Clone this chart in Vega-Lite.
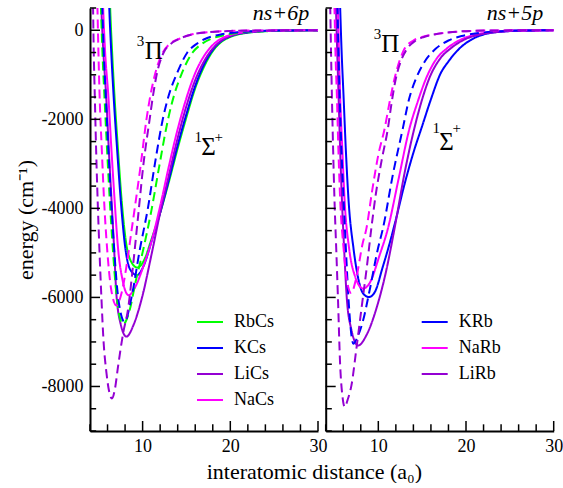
{
"$schema": "https://vega.github.io/schema/vega-lite/v6.json",
"padding": {"left": 14, "top": 2, "right": 0, "bottom": 0},
"background": "white",
"bounds": "flush",
"config": {
  "view": {"stroke": null},
  "axis": {"labelFont": "Liberation Serif", "labelFontSize": 18, "labelColor": "black", "labelFlush": false, "titleFont": "Liberation Serif", "titleFontSize": 22, "titleFontWeight": "normal", "titleColor": "black", "domainColor": "black", "domainWidth": 2, "ticks": false, "grid": false},
  "legend": {"labelFont": "Liberation Serif", "labelFontSize": 18, "labelColor": "black"}
},
"datasets": {
"curves": [
{"p":"6p","m":"RbCs","s":"S","x":6.15,"y":1500},{"p":"6p","m":"RbCs","s":"S","x":6.3,"y":500},{"p":"6p","m":"RbCs","s":"S","x":6.5,"y":-400},{"p":"6p","m":"RbCs","s":"S","x":6.8,"y":-1500},{"p":"6p","m":"RbCs","s":"S","x":7.2,"y":-2700},{"p":"6p","m":"RbCs","s":"S","x":7.6,"y":-3800},{"p":"6p","m":"RbCs","s":"S","x":8.1,"y":-4750},{"p":"6p","m":"RbCs","s":"S","x":8.7,"y":-5200},{"p":"6p","m":"RbCs","s":"S","x":9.4,"y":-5330},{"p":"6p","m":"RbCs","s":"S","x":10.2,"y":-5150},{"p":"6p","m":"RbCs","s":"S","x":11.0,"y":-4700},{"p":"6p","m":"RbCs","s":"S","x":12.0,"y":-4100},{"p":"6p","m":"RbCs","s":"S","x":13.0,"y":-3400},{"p":"6p","m":"RbCs","s":"S","x":14.0,"y":-2650},{"p":"6p","m":"RbCs","s":"S","x":15.0,"y":-1950},{"p":"6p","m":"RbCs","s":"S","x":16.0,"y":-1300},{"p":"6p","m":"RbCs","s":"S","x":17.0,"y":-820},{"p":"6p","m":"RbCs","s":"S","x":18.0,"y":-470},{"p":"6p","m":"RbCs","s":"S","x":19.0,"y":-260},{"p":"6p","m":"RbCs","s":"S","x":20.0,"y":-150},{"p":"6p","m":"RbCs","s":"S","x":22.0,"y":-55},{"p":"6p","m":"RbCs","s":"S","x":25.0,"y":-15},{"p":"6p","m":"RbCs","s":"S","x":30.0,"y":0},
{"p":"6p","m":"KCs","s":"S","x":6.05,"y":1500},{"p":"6p","m":"KCs","s":"S","x":6.2,"y":500},{"p":"6p","m":"KCs","s":"S","x":6.4,"y":-400},{"p":"6p","m":"KCs","s":"S","x":6.7,"y":-1500},{"p":"6p","m":"KCs","s":"S","x":7.1,"y":-2700},{"p":"6p","m":"KCs","s":"S","x":7.5,"y":-3800},{"p":"6p","m":"KCs","s":"S","x":8.0,"y":-4850},{"p":"6p","m":"KCs","s":"S","x":8.6,"y":-5380},{"p":"6p","m":"KCs","s":"S","x":9.35,"y":-5500},{"p":"6p","m":"KCs","s":"S","x":10.2,"y":-5250},{"p":"6p","m":"KCs","s":"S","x":11.0,"y":-4750},{"p":"6p","m":"KCs","s":"S","x":12.0,"y":-4100},{"p":"6p","m":"KCs","s":"S","x":13.0,"y":-3350},{"p":"6p","m":"KCs","s":"S","x":14.0,"y":-2580},{"p":"6p","m":"KCs","s":"S","x":15.0,"y":-1880},{"p":"6p","m":"KCs","s":"S","x":16.0,"y":-1250},{"p":"6p","m":"KCs","s":"S","x":17.0,"y":-770},{"p":"6p","m":"KCs","s":"S","x":18.0,"y":-440},{"p":"6p","m":"KCs","s":"S","x":19.0,"y":-240},{"p":"6p","m":"KCs","s":"S","x":20.0,"y":-135},{"p":"6p","m":"KCs","s":"S","x":22.0,"y":-50},{"p":"6p","m":"KCs","s":"S","x":25.0,"y":-12},{"p":"6p","m":"KCs","s":"S","x":30.0,"y":0},
{"p":"6p","m":"LiCs","s":"S","x":5.15,"y":1500},{"p":"6p","m":"LiCs","s":"S","x":5.3,"y":500},{"p":"6p","m":"LiCs","s":"S","x":5.5,"y":-400},{"p":"6p","m":"LiCs","s":"S","x":5.85,"y":-1500},{"p":"6p","m":"LiCs","s":"S","x":6.15,"y":-2700},{"p":"6p","m":"LiCs","s":"S","x":6.45,"y":-3800},{"p":"6p","m":"LiCs","s":"S","x":6.75,"y":-4900},{"p":"6p","m":"LiCs","s":"S","x":7.0,"y":-5900},{"p":"6p","m":"LiCs","s":"S","x":7.5,"y":-6600},{"p":"6p","m":"LiCs","s":"S","x":8.15,"y":-6880},{"p":"6p","m":"LiCs","s":"S","x":9.0,"y":-6600},{"p":"6p","m":"LiCs","s":"S","x":10.0,"y":-5950},{"p":"6p","m":"LiCs","s":"S","x":11.0,"y":-5050},{"p":"6p","m":"LiCs","s":"S","x":12.0,"y":-4100},{"p":"6p","m":"LiCs","s":"S","x":13.0,"y":-3250},{"p":"6p","m":"LiCs","s":"S","x":14.0,"y":-2420},{"p":"6p","m":"LiCs","s":"S","x":15.0,"y":-1700},{"p":"6p","m":"LiCs","s":"S","x":16.0,"y":-1120},{"p":"6p","m":"LiCs","s":"S","x":17.0,"y":-700},{"p":"6p","m":"LiCs","s":"S","x":18.0,"y":-410},{"p":"6p","m":"LiCs","s":"S","x":19.0,"y":-230},{"p":"6p","m":"LiCs","s":"S","x":20.0,"y":-130},{"p":"6p","m":"LiCs","s":"S","x":22.0,"y":-42},{"p":"6p","m":"LiCs","s":"S","x":25.0,"y":-10},{"p":"6p","m":"LiCs","s":"S","x":30.0,"y":0},
{"p":"6p","m":"NaCs","s":"S","x":5.35,"y":1500},{"p":"6p","m":"NaCs","s":"S","x":5.5,"y":500},{"p":"6p","m":"NaCs","s":"S","x":5.7,"y":-400},{"p":"6p","m":"NaCs","s":"S","x":6.1,"y":-1500},{"p":"6p","m":"NaCs","s":"S","x":6.45,"y":-2700},{"p":"6p","m":"NaCs","s":"S","x":6.8,"y":-3800},{"p":"6p","m":"NaCs","s":"S","x":7.2,"y":-4900},{"p":"6p","m":"NaCs","s":"S","x":7.7,"y":-5600},{"p":"6p","m":"NaCs","s":"S","x":8.4,"y":-5950},{"p":"6p","m":"NaCs","s":"S","x":9.2,"y":-5750},{"p":"6p","m":"NaCs","s":"S","x":10.0,"y":-5350},{"p":"6p","m":"NaCs","s":"S","x":11.0,"y":-4750},{"p":"6p","m":"NaCs","s":"S","x":12.0,"y":-3950},{"p":"6p","m":"NaCs","s":"S","x":13.0,"y":-3050},{"p":"6p","m":"NaCs","s":"S","x":14.0,"y":-2220},{"p":"6p","m":"NaCs","s":"S","x":15.0,"y":-1520},{"p":"6p","m":"NaCs","s":"S","x":16.0,"y":-960},{"p":"6p","m":"NaCs","s":"S","x":17.0,"y":-580},{"p":"6p","m":"NaCs","s":"S","x":18.0,"y":-330},{"p":"6p","m":"NaCs","s":"S","x":19.0,"y":-185},{"p":"6p","m":"NaCs","s":"S","x":20.0,"y":-105},{"p":"6p","m":"NaCs","s":"S","x":22.0,"y":-35},{"p":"6p","m":"NaCs","s":"S","x":25.0,"y":-9},{"p":"6p","m":"NaCs","s":"S","x":30.0,"y":0},
{"p":"6p","m":"RbCs","s":"P","x":5.1,"y":1500},{"p":"6p","m":"RbCs","s":"P","x":5.25,"y":500},{"p":"6p","m":"RbCs","s":"P","x":5.4,"y":-400},{"p":"6p","m":"RbCs","s":"P","x":5.65,"y":-1500},{"p":"6p","m":"RbCs","s":"P","x":5.95,"y":-2700},{"p":"6p","m":"RbCs","s":"P","x":6.25,"y":-3800},{"p":"6p","m":"RbCs","s":"P","x":6.6,"y":-4900},{"p":"6p","m":"RbCs","s":"P","x":7.0,"y":-5900},{"p":"6p","m":"RbCs","s":"P","x":7.4,"y":-6450},{"p":"6p","m":"RbCs","s":"P","x":7.8,"y":-6600},{"p":"6p","m":"RbCs","s":"P","x":8.5,"y":-6300},{"p":"6p","m":"RbCs","s":"P","x":9.2,"y":-5650},{"p":"6p","m":"RbCs","s":"P","x":10.1,"y":-4900},{"p":"6p","m":"RbCs","s":"P","x":11.0,"y":-4050},{"p":"6p","m":"RbCs","s":"P","x":11.9,"y":-3050},{"p":"6p","m":"RbCs","s":"P","x":12.9,"y":-2000},{"p":"6p","m":"RbCs","s":"P","x":13.6,"y":-1450},{"p":"6p","m":"RbCs","s":"P","x":14.4,"y":-1000},{"p":"6p","m":"RbCs","s":"P","x":15.7,"y":-500},{"p":"6p","m":"RbCs","s":"P","x":16.8,"y":-300},{"p":"6p","m":"RbCs","s":"P","x":18.0,"y":-180},{"p":"6p","m":"RbCs","s":"P","x":19.5,"y":-100},{"p":"6p","m":"RbCs","s":"P","x":21.5,"y":-45},{"p":"6p","m":"RbCs","s":"P","x":24.0,"y":-15},{"p":"6p","m":"RbCs","s":"P","x":30.0,"y":0},
{"p":"6p","m":"KCs","s":"P","x":5.25,"y":1500},{"p":"6p","m":"KCs","s":"P","x":5.4,"y":500},{"p":"6p","m":"KCs","s":"P","x":5.55,"y":-400},{"p":"6p","m":"KCs","s":"P","x":5.8,"y":-1500},{"p":"6p","m":"KCs","s":"P","x":6.1,"y":-2700},{"p":"6p","m":"KCs","s":"P","x":6.4,"y":-3800},{"p":"6p","m":"KCs","s":"P","x":6.75,"y":-4900},{"p":"6p","m":"KCs","s":"P","x":7.1,"y":-5800},{"p":"6p","m":"KCs","s":"P","x":7.5,"y":-6350},{"p":"6p","m":"KCs","s":"P","x":7.95,"y":-6550},{"p":"6p","m":"KCs","s":"P","x":8.7,"y":-6030},{"p":"6p","m":"KCs","s":"P","x":9.7,"y":-4905},{"p":"6p","m":"KCs","s":"P","x":10.6,"y":-4000},{"p":"6p","m":"KCs","s":"P","x":11.4,"y":-3000},{"p":"6p","m":"KCs","s":"P","x":12.3,"y":-2000},{"p":"6p","m":"KCs","s":"P","x":13.0,"y":-1450},{"p":"6p","m":"KCs","s":"P","x":13.85,"y":-1000},{"p":"6p","m":"KCs","s":"P","x":15.1,"y":-500},{"p":"6p","m":"KCs","s":"P","x":16.2,"y":-300},{"p":"6p","m":"KCs","s":"P","x":17.3,"y":-180},{"p":"6p","m":"KCs","s":"P","x":19.0,"y":-90},{"p":"6p","m":"KCs","s":"P","x":21.0,"y":-40},{"p":"6p","m":"KCs","s":"P","x":24.0,"y":-12},{"p":"6p","m":"KCs","s":"P","x":30.0,"y":0},
{"p":"6p","m":"NaCs","s":"P","x":4.75,"y":1500},{"p":"6p","m":"NaCs","s":"P","x":4.85,"y":500},{"p":"6p","m":"NaCs","s":"P","x":4.95,"y":-400},{"p":"6p","m":"NaCs","s":"P","x":5.1,"y":-1500},{"p":"6p","m":"NaCs","s":"P","x":5.35,"y":-2700},{"p":"6p","m":"NaCs","s":"P","x":5.6,"y":-3800},{"p":"6p","m":"NaCs","s":"P","x":5.95,"y":-4900},{"p":"6p","m":"NaCs","s":"P","x":6.4,"y":-5800},{"p":"6p","m":"NaCs","s":"P","x":7.0,"y":-6180},{"p":"6p","m":"NaCs","s":"P","x":7.6,"y":-5900},{"p":"6p","m":"NaCs","s":"P","x":8.2,"y":-5250},{"p":"6p","m":"NaCs","s":"P","x":8.7,"y":-4550},{"p":"6p","m":"NaCs","s":"P","x":9.1,"y":-4000},{"p":"6p","m":"NaCs","s":"P","x":9.8,"y":-3000},{"p":"6p","m":"NaCs","s":"P","x":10.44,"y":-2000},{"p":"6p","m":"NaCs","s":"P","x":10.9,"y":-1450},{"p":"6p","m":"NaCs","s":"P","x":11.4,"y":-1000},{"p":"6p","m":"NaCs","s":"P","x":12.3,"y":-500},{"p":"6p","m":"NaCs","s":"P","x":13.0,"y":-320},{"p":"6p","m":"NaCs","s":"P","x":14.2,"y":-190},{"p":"6p","m":"NaCs","s":"P","x":15.5,"y":-100},{"p":"6p","m":"NaCs","s":"P","x":17.5,"y":-45},{"p":"6p","m":"NaCs","s":"P","x":20.0,"y":-15},{"p":"6p","m":"NaCs","s":"P","x":24.0,"y":-4},{"p":"6p","m":"NaCs","s":"P","x":30.0,"y":0},
{"p":"6p","m":"LiCs","s":"P","x":4.28,"y":1500},{"p":"6p","m":"LiCs","s":"P","x":4.35,"y":500},{"p":"6p","m":"LiCs","s":"P","x":4.42,"y":-400},{"p":"6p","m":"LiCs","s":"P","x":4.55,"y":-1500},{"p":"6p","m":"LiCs","s":"P","x":4.7,"y":-2700},{"p":"6p","m":"LiCs","s":"P","x":4.87,"y":-3800},{"p":"6p","m":"LiCs","s":"P","x":5.07,"y":-4900},{"p":"6p","m":"LiCs","s":"P","x":5.3,"y":-6000},{"p":"6p","m":"LiCs","s":"P","x":5.55,"y":-7000},{"p":"6p","m":"LiCs","s":"P","x":5.85,"y":-7650},{"p":"6p","m":"LiCs","s":"P","x":6.15,"y":-8080},{"p":"6p","m":"LiCs","s":"P","x":6.5,"y":-8270},{"p":"6p","m":"LiCs","s":"P","x":6.85,"y":-8050},{"p":"6p","m":"LiCs","s":"P","x":7.2,"y":-7550},{"p":"6p","m":"LiCs","s":"P","x":7.8,"y":-6780},{"p":"6p","m":"LiCs","s":"P","x":8.35,"y":-6250},{"p":"6p","m":"LiCs","s":"P","x":8.9,"y":-5300},{"p":"6p","m":"LiCs","s":"P","x":9.5,"y":-4150},{"p":"6p","m":"LiCs","s":"P","x":10.1,"y":-3000},{"p":"6p","m":"LiCs","s":"P","x":10.8,"y":-2000},{"p":"6p","m":"LiCs","s":"P","x":11.2,"y":-1450},{"p":"6p","m":"LiCs","s":"P","x":11.6,"y":-1000},{"p":"6p","m":"LiCs","s":"P","x":12.4,"y":-500},{"p":"6p","m":"LiCs","s":"P","x":13.2,"y":-310},{"p":"6p","m":"LiCs","s":"P","x":14.2,"y":-190},{"p":"6p","m":"LiCs","s":"P","x":15.5,"y":-100},{"p":"6p","m":"LiCs","s":"P","x":17.5,"y":-45},{"p":"6p","m":"LiCs","s":"P","x":20.0,"y":-15},{"p":"6p","m":"LiCs","s":"P","x":24.0,"y":-4},{"p":"6p","m":"LiCs","s":"P","x":30.0,"y":0},
{"p":"5p","m":"KRb","s":"S","x":5.5,"y":1500},{"p":"5p","m":"KRb","s":"S","x":5.65,"y":500},{"p":"5p","m":"KRb","s":"S","x":5.8,"y":-400},{"p":"5p","m":"KRb","s":"S","x":6.04,"y":-1500},{"p":"5p","m":"KRb","s":"S","x":6.3,"y":-2700},{"p":"5p","m":"KRb","s":"S","x":6.6,"y":-3800},{"p":"5p","m":"KRb","s":"S","x":7.17,"y":-4900},{"p":"5p","m":"KRb","s":"S","x":7.74,"y":-5600},{"p":"5p","m":"KRb","s":"S","x":8.3,"y":-5920},{"p":"5p","m":"KRb","s":"S","x":8.94,"y":-5990},{"p":"5p","m":"KRb","s":"S","x":9.6,"y":-5880},{"p":"5p","m":"KRb","s":"S","x":10.5,"y":-5320},{"p":"5p","m":"KRb","s":"S","x":11.3,"y":-4780},{"p":"5p","m":"KRb","s":"S","x":12.0,"y":-4250},{"p":"5p","m":"KRb","s":"S","x":13.0,"y":-3450},{"p":"5p","m":"KRb","s":"S","x":14.0,"y":-2750},{"p":"5p","m":"KRb","s":"S","x":15.0,"y":-2150},{"p":"5p","m":"KRb","s":"S","x":16.0,"y":-1550},{"p":"5p","m":"KRb","s":"S","x":17.1,"y":-970},{"p":"5p","m":"KRb","s":"S","x":18.0,"y":-700},{"p":"5p","m":"KRb","s":"S","x":19.2,"y":-420},{"p":"5p","m":"KRb","s":"S","x":20.7,"y":-200},{"p":"5p","m":"KRb","s":"S","x":22.3,"y":-80},{"p":"5p","m":"KRb","s":"S","x":24.5,"y":-25},{"p":"5p","m":"KRb","s":"S","x":27.0,"y":-5},{"p":"5p","m":"KRb","s":"S","x":30.0,"y":0},
{"p":"5p","m":"NaRb","s":"S","x":5.25,"y":1500},{"p":"5p","m":"NaRb","s":"S","x":5.4,"y":500},{"p":"5p","m":"NaRb","s":"S","x":5.5,"y":-400},{"p":"5p","m":"NaRb","s":"S","x":5.65,"y":-1500},{"p":"5p","m":"NaRb","s":"S","x":5.9,"y":-2700},{"p":"5p","m":"NaRb","s":"S","x":6.15,"y":-3800},{"p":"5p","m":"NaRb","s":"S","x":6.67,"y":-4900},{"p":"5p","m":"NaRb","s":"S","x":7.3,"y":-5500},{"p":"5p","m":"NaRb","s":"S","x":8.26,"y":-5800},{"p":"5p","m":"NaRb","s":"S","x":9.0,"y":-5680},{"p":"5p","m":"NaRb","s":"S","x":10.15,"y":-5050},{"p":"5p","m":"NaRb","s":"S","x":11.09,"y":-4456},{"p":"5p","m":"NaRb","s":"S","x":12.3,"y":-3350},{"p":"5p","m":"NaRb","s":"S","x":13.55,"y":-2209},{"p":"5p","m":"NaRb","s":"S","x":14.5,"y":-1600},{"p":"5p","m":"NaRb","s":"S","x":15.44,"y":-1085},{"p":"5p","m":"NaRb","s":"S","x":16.6,"y":-650},{"p":"5p","m":"NaRb","s":"S","x":17.8,"y":-411},{"p":"5p","m":"NaRb","s":"S","x":19.2,"y":-230},{"p":"5p","m":"NaRb","s":"S","x":21.0,"y":-100},{"p":"5p","m":"NaRb","s":"S","x":23.0,"y":-40},{"p":"5p","m":"NaRb","s":"S","x":26.0,"y":-10},{"p":"5p","m":"NaRb","s":"S","x":30.0,"y":0},
{"p":"5p","m":"LiRb","s":"S","x":5.02,"y":1500},{"p":"5p","m":"LiRb","s":"S","x":5.17,"y":500},{"p":"5p","m":"LiRb","s":"S","x":5.3,"y":-400},{"p":"5p","m":"LiRb","s":"S","x":5.47,"y":-1500},{"p":"5p","m":"LiRb","s":"S","x":5.65,"y":-2700},{"p":"5p","m":"LiRb","s":"S","x":5.85,"y":-3800},{"p":"5p","m":"LiRb","s":"S","x":6.1,"y":-4900},{"p":"5p","m":"LiRb","s":"S","x":6.4,"y":-6000},{"p":"5p","m":"LiRb","s":"S","x":6.9,"y":-6700},{"p":"5p","m":"LiRb","s":"S","x":7.7,"y":-7080},{"p":"5p","m":"LiRb","s":"S","x":8.64,"y":-6850},{"p":"5p","m":"LiRb","s":"S","x":9.78,"y":-6250},{"p":"5p","m":"LiRb","s":"S","x":10.9,"y":-5400},{"p":"5p","m":"LiRb","s":"S","x":11.9,"y":-4400},{"p":"5p","m":"LiRb","s":"S","x":13.0,"y":-3200},{"p":"5p","m":"LiRb","s":"S","x":14.1,"y":-2209},{"p":"5p","m":"LiRb","s":"S","x":15.0,"y":-1550},{"p":"5p","m":"LiRb","s":"S","x":15.8,"y":-1085},{"p":"5p","m":"LiRb","s":"S","x":17.0,"y":-650},{"p":"5p","m":"LiRb","s":"S","x":18.3,"y":-400},{"p":"5p","m":"LiRb","s":"S","x":19.8,"y":-210},{"p":"5p","m":"LiRb","s":"S","x":21.5,"y":-100},{"p":"5p","m":"LiRb","s":"S","x":23.5,"y":-40},{"p":"5p","m":"LiRb","s":"S","x":26.0,"y":-10},{"p":"5p","m":"LiRb","s":"S","x":30.0,"y":0},
{"p":"5p","m":"KRb","s":"P","x":5.2,"y":1500},{"p":"5p","m":"KRb","s":"P","x":5.35,"y":500},{"p":"5p","m":"KRb","s":"P","x":5.45,"y":-400},{"p":"5p","m":"KRb","s":"P","x":5.6,"y":-1500},{"p":"5p","m":"KRb","s":"P","x":5.8,"y":-2700},{"p":"5p","m":"KRb","s":"P","x":6.04,"y":-3800},{"p":"5p","m":"KRb","s":"P","x":6.3,"y":-4900},{"p":"5p","m":"KRb","s":"P","x":6.6,"y":-6030},{"p":"5p","m":"KRb","s":"P","x":6.85,"y":-6700},{"p":"5p","m":"KRb","s":"P","x":7.15,"y":-7040},{"p":"5p","m":"KRb","s":"P","x":7.6,"y":-6900},{"p":"5p","m":"KRb","s":"P","x":8.26,"y":-6520},{"p":"5p","m":"KRb","s":"P","x":9.0,"y":-5850},{"p":"5p","m":"KRb","s":"P","x":9.96,"y":-4900},{"p":"5p","m":"KRb","s":"P","x":10.52,"y":-4456},{"p":"5p","m":"KRb","s":"P","x":11.7,"y":-3200},{"p":"5p","m":"KRb","s":"P","x":12.79,"y":-2209},{"p":"5p","m":"KRb","s":"P","x":13.5,"y":-1550},{"p":"5p","m":"KRb","s":"P","x":14.3,"y":-1085},{"p":"5p","m":"KRb","s":"P","x":15.3,"y":-700},{"p":"5p","m":"KRb","s":"P","x":16.57,"y":-411},{"p":"5p","m":"KRb","s":"P","x":18.0,"y":-230},{"p":"5p","m":"KRb","s":"P","x":19.5,"y":-130},{"p":"5p","m":"KRb","s":"P","x":21.5,"y":-60},{"p":"5p","m":"KRb","s":"P","x":24.0,"y":-20},{"p":"5p","m":"KRb","s":"P","x":27.0,"y":-5},{"p":"5p","m":"KRb","s":"P","x":30.0,"y":0},
{"p":"5p","m":"NaRb","s":"P","x":4.85,"y":1500},{"p":"5p","m":"NaRb","s":"P","x":5.0,"y":500},{"p":"5p","m":"NaRb","s":"P","x":5.1,"y":-400},{"p":"5p","m":"NaRb","s":"P","x":5.28,"y":-1500},{"p":"5p","m":"NaRb","s":"P","x":5.45,"y":-2700},{"p":"5p","m":"NaRb","s":"P","x":5.65,"y":-3800},{"p":"5p","m":"NaRb","s":"P","x":6.04,"y":-4900},{"p":"5p","m":"NaRb","s":"P","x":6.4,"y":-5600},{"p":"5p","m":"NaRb","s":"P","x":6.9,"y":-5900},{"p":"5p","m":"NaRb","s":"P","x":7.5,"y":-5550},{"p":"5p","m":"NaRb","s":"P","x":8.2,"y":-4800},{"p":"5p","m":"NaRb","s":"P","x":8.64,"y":-4456},{"p":"5p","m":"NaRb","s":"P","x":9.3,"y":-3600},{"p":"5p","m":"NaRb","s":"P","x":10.0,"y":-2800},{"p":"5p","m":"NaRb","s":"P","x":10.72,"y":-2209},{"p":"5p","m":"NaRb","s":"P","x":11.3,"y":-1600},{"p":"5p","m":"NaRb","s":"P","x":11.85,"y":-1085},{"p":"5p","m":"NaRb","s":"P","x":12.4,"y":-700},{"p":"5p","m":"NaRb","s":"P","x":13.0,"y":-411},{"p":"5p","m":"NaRb","s":"P","x":14.0,"y":-230},{"p":"5p","m":"NaRb","s":"P","x":15.0,"y":-150},{"p":"5p","m":"NaRb","s":"P","x":16.5,"y":-90},{"p":"5p","m":"NaRb","s":"P","x":18.5,"y":-40},{"p":"5p","m":"NaRb","s":"P","x":21.0,"y":-12},{"p":"5p","m":"NaRb","s":"P","x":25.0,"y":-2},{"p":"5p","m":"NaRb","s":"P","x":30.0,"y":0},
{"p":"5p","m":"LiRb","s":"P","x":4.42,"y":1500},{"p":"5p","m":"LiRb","s":"P","x":4.52,"y":500},{"p":"5p","m":"LiRb","s":"P","x":4.6,"y":-400},{"p":"5p","m":"LiRb","s":"P","x":4.71,"y":-1500},{"p":"5p","m":"LiRb","s":"P","x":4.85,"y":-2700},{"p":"5p","m":"LiRb","s":"P","x":5.0,"y":-3800},{"p":"5p","m":"LiRb","s":"P","x":5.2,"y":-4900},{"p":"5p","m":"LiRb","s":"P","x":5.4,"y":-6030},{"p":"5p","m":"LiRb","s":"P","x":5.65,"y":-7527},{"p":"5p","m":"LiRb","s":"P","x":5.9,"y":-8200},{"p":"5p","m":"LiRb","s":"P","x":6.17,"y":-8460},{"p":"5p","m":"LiRb","s":"P","x":6.5,"y":-8300},{"p":"5p","m":"LiRb","s":"P","x":6.94,"y":-7970},{"p":"5p","m":"LiRb","s":"P","x":7.5,"y":-7150},{"p":"5p","m":"LiRb","s":"P","x":8.08,"y":-6250},{"p":"5p","m":"LiRb","s":"P","x":8.7,"y":-5300},{"p":"5p","m":"LiRb","s":"P","x":9.2,"y":-4456},{"p":"5p","m":"LiRb","s":"P","x":9.7,"y":-3700},{"p":"5p","m":"LiRb","s":"P","x":10.4,"y":-2900},{"p":"5p","m":"LiRb","s":"P","x":11.09,"y":-2209},{"p":"5p","m":"LiRb","s":"P","x":11.5,"y":-1650},{"p":"5p","m":"LiRb","s":"P","x":12.0,"y":-1085},{"p":"5p","m":"LiRb","s":"P","x":12.6,"y":-680},{"p":"5p","m":"LiRb","s":"P","x":13.3,"y":-411},{"p":"5p","m":"LiRb","s":"P","x":14.2,"y":-240},{"p":"5p","m":"LiRb","s":"P","x":15.2,"y":-150},{"p":"5p","m":"LiRb","s":"P","x":16.5,"y":-90},{"p":"5p","m":"LiRb","s":"P","x":18.5,"y":-40},{"p":"5p","m":"LiRb","s":"P","x":21.0,"y":-12},{"p":"5p","m":"LiRb","s":"P","x":25.0,"y":-2},{"p":"5p","m":"LiRb","s":"P","x":30.0,"y":0}
],
"notes": [
{"p":"6p","k":"main","t":"Π","x":10.25,"y":-636},
{"p":"6p","k":"sup","t":"3","x":9.34,"y":-344},
{"p":"6p","k":"main","t":"Σ","x":16.69,"y":-2800},
{"p":"6p","k":"sup","t":"1","x":15.93,"y":-2520},
{"p":"6p","k":"sup","t":"+","x":18.2,"y":-2520},
{"p":"6p","k":"head","t":"ns+6p","x":29.0,"y":220},
{"p":"5p","k":"main","t":"Π","x":10.34,"y":-485},
{"p":"5p","k":"sup","t":"3","x":9.47,"y":-190},
{"p":"5p","k":"main","t":"Σ","x":16.94,"y":-2680},
{"p":"5p","k":"sup","t":"1","x":16.19,"y":-2300},
{"p":"5p","k":"sup","t":"+","x":18.45,"y":-2300},
{"p":"5p","k":"head","t":"ns+5p","x":28.8,"y":220}
],
"yticks": [
{"kind":"major","v":-8000,"a":4,"b":5.14},{"kind":"major","v":-6000,"a":4,"b":5.14},{"kind":"major","v":-4000,"a":4,"b":5.14},{"kind":"major","v":-2000,"a":4,"b":5.14},{"kind":"major","v":0,"a":4,"b":5.14},
{"kind":"minor","v":-9000,"a":4,"b":4.7},{"kind":"minor","v":-8500,"a":4,"b":4.7},{"kind":"minor","v":-7500,"a":4,"b":4.7},{"kind":"minor","v":-7000,"a":4,"b":4.7},{"kind":"minor","v":-6500,"a":4,"b":4.7},{"kind":"minor","v":-5500,"a":4,"b":4.7},{"kind":"minor","v":-5000,"a":4,"b":4.7},{"kind":"minor","v":-4500,"a":4,"b":4.7},{"kind":"minor","v":-3500,"a":4,"b":4.7},{"kind":"minor","v":-3000,"a":4,"b":4.7},{"kind":"minor","v":-2500,"a":4,"b":4.7},{"kind":"minor","v":-1500,"a":4,"b":4.7},{"kind":"minor","v":-1000,"a":4,"b":4.7},{"kind":"minor","v":-500,"a":4,"b":4.7},{"kind":"minor","v":500,"a":4,"b":4.7}
],
"xticks": [
{"kind":"major","v":10,"a":-9000,"b":-8775},{"kind":"major","v":20,"a":-9000,"b":-8775},{"kind":"major","v":30,"a":-9000,"b":-8775},
{"kind":"minor","v":4,"a":-9000,"b":-8850},{"kind":"minor","v":6,"a":-9000,"b":-8850},{"kind":"minor","v":8,"a":-9000,"b":-8850},{"kind":"minor","v":12,"a":-9000,"b":-8850},{"kind":"minor","v":14,"a":-9000,"b":-8850},{"kind":"minor","v":16,"a":-9000,"b":-8850},{"kind":"minor","v":18,"a":-9000,"b":-8850},{"kind":"minor","v":22,"a":-9000,"b":-8850},{"kind":"minor","v":24,"a":-9000,"b":-8850},{"kind":"minor","v":26,"a":-9000,"b":-8850},{"kind":"minor","v":28,"a":-9000,"b":-8850}
]
},
"title": {"text": "interatomic distance (a₀)", "orient": "bottom", "anchor": "middle", "font": "Liberation Serif", "fontSize": 22, "fontWeight": "normal", "color": "black", "offset": 7, "dx": 26},
"spacing": 7.7,
"resolve": {"scale": {"color": "independent"}},
"hconcat": [
{
 "width": 228, "height": 423,
 "layer": [
  {"data": {"name": "curves"}, "transform": [{"filter": "datum.p == '6p'"}],
   "mark": {"type": "line", "clip": true, "interpolate": "monotone", "strokeWidth": 2},
   "encoding": {
    "x": {"field": "x", "type": "quantitative", "scale": {"domain": [4, 30], "nice": false, "zero": false},
          "axis": {"orient": "bottom", "values": [10, 20, 30], "labelPadding": 6, "title": null}},
    "y": {"field": "y", "type": "quantitative", "scale": {"domain": [-9000, 500], "nice": false, "zero": false},
          "axis": {"orient": "left", "values": [-8000, -6000, -4000, -2000, 0], "labelPadding": 7, "labelExpr": "datum.value + ''", "title": "energy (cm⁻¹)", "titlePadding": 4}},
    "color": {"field": "m", "type": "nominal", "scale": {"domain": ["RbCs", "KCs", "LiCs", "NaCs"], "range": ["#00ff00", "#0000ff", "#9400d3", "#ff00ff"]},
              "legend": {"orient": "none", "legendX": 106, "legendY": 300, "title": null, "symbolType": "stroke", "symbolSize": 676, "symbolStrokeWidth": 2, "labelOffset": 10, "rowPadding": 3, "padding": 0}},
    "strokeDash": {"field": "s", "type": "nominal", "scale": {"domain": ["S", "P"], "range": [[1, 0], [9, 5]]}, "legend": null}
   }},
  {"data": {"name": "yticks"},
   "mark": {"type": "rule", "strokeWidth": 1.5, "color": "black"},
   "encoding": {
    "x": {"field": "a", "type": "quantitative", "scale": {"domain": [4, 30], "nice": false, "zero": false}, "axis": null},
    "x2": {"field": "b"},
    "y": {"field": "v", "type": "quantitative", "scale": {"domain": [-9000, 500], "nice": false, "zero": false}, "axis": null}
   }},
  {"data": {"name": "xticks"},
   "mark": {"type": "rule", "strokeWidth": 1.5, "color": "black"},
   "encoding": {
    "x": {"field": "v", "type": "quantitative", "scale": {"domain": [4, 30], "nice": false, "zero": false}, "axis": null},
    "y": {"field": "a", "type": "quantitative", "scale": {"domain": [-9000, 500], "nice": false, "zero": false}, "axis": null},
    "y2": {"field": "b"}
   }},
  {"data": {"name": "notes"}, "transform": [{"filter": "datum.p == '6p' && datum.k == 'main'"}],
   "mark": {"type": "text", "font": "Liberation Serif", "fontSize": 25, "align": "left", "baseline": "alphabetic", "color": "black"},
   "encoding": {
    "x": {"field": "x", "type": "quantitative", "scale": {"domain": [4, 30], "nice": false, "zero": false}, "axis": null},
    "y": {"field": "y", "type": "quantitative", "scale": {"domain": [-9000, 500], "nice": false, "zero": false}, "axis": null},
    "text": {"field": "t"}
   }},
  {"data": {"name": "notes"}, "transform": [{"filter": "datum.p == '6p' && datum.k == 'sup'"}],
   "mark": {"type": "text", "font": "Liberation Serif", "fontSize": 15, "align": "left", "baseline": "alphabetic", "color": "black"},
   "encoding": {
    "x": {"field": "x", "type": "quantitative", "scale": {"domain": [4, 30], "nice": false, "zero": false}, "axis": null},
    "y": {"field": "y", "type": "quantitative", "scale": {"domain": [-9000, 500], "nice": false, "zero": false}, "axis": null},
    "text": {"field": "t"}
   }},
  {"data": {"name": "notes"}, "transform": [{"filter": "datum.p == '6p' && datum.k == 'head'"}],
   "mark": {"type": "text", "font": "Liberation Serif", "fontSize": 22, "fontStyle": "italic", "align": "right", "baseline": "alphabetic", "color": "black"},
   "encoding": {
    "x": {"field": "x", "type": "quantitative", "scale": {"domain": [4, 30], "nice": false, "zero": false}, "axis": null},
    "y": {"field": "y", "type": "quantitative", "scale": {"domain": [-9000, 500], "nice": false, "zero": false}, "axis": null},
    "text": {"field": "t"}
   }}
 ],
 "resolve": {"axis": {"x": "independent", "y": "independent"}}
},
{
 "width": 228, "height": 423,
 "layer": [
  {"data": {"name": "curves"}, "transform": [{"filter": "datum.p == '5p'"}],
   "mark": {"type": "line", "clip": true, "interpolate": "monotone", "strokeWidth": 2},
   "encoding": {
    "x": {"field": "x", "type": "quantitative", "scale": {"domain": [4, 30], "nice": false, "zero": false},
          "axis": {"orient": "bottom", "values": [10, 20, 30], "labelPadding": 6, "title": null}},
    "y": {"field": "y", "type": "quantitative", "scale": {"domain": [-9000, 500], "nice": false, "zero": false},
          "axis": {"orient": "left", "values": [-8000, -6000, -4000, -2000, 0], "labels": false, "title": null}},
    "color": {"field": "m", "type": "nominal", "scale": {"domain": ["KRb", "NaRb", "LiRb"], "range": ["#0000ff", "#ff00ff", "#9400d3"]},
              "legend": {"orient": "none", "legendX": 95, "legendY": 300, "title": null, "symbolType": "stroke", "symbolSize": 676, "symbolStrokeWidth": 2, "labelOffset": 10, "rowPadding": 3, "padding": 0}},
    "strokeDash": {"field": "s", "type": "nominal", "scale": {"domain": ["S", "P"], "range": [[1, 0], [9, 5]]}, "legend": null}
   }},
  {"data": {"name": "yticks"},
   "mark": {"type": "rule", "strokeWidth": 1.5, "color": "black"},
   "encoding": {
    "x": {"field": "a", "type": "quantitative", "scale": {"domain": [4, 30], "nice": false, "zero": false}, "axis": null},
    "x2": {"field": "b"},
    "y": {"field": "v", "type": "quantitative", "scale": {"domain": [-9000, 500], "nice": false, "zero": false}, "axis": null}
   }},
  {"data": {"name": "xticks"},
   "mark": {"type": "rule", "strokeWidth": 1.5, "color": "black"},
   "encoding": {
    "x": {"field": "v", "type": "quantitative", "scale": {"domain": [4, 30], "nice": false, "zero": false}, "axis": null},
    "y": {"field": "a", "type": "quantitative", "scale": {"domain": [-9000, 500], "nice": false, "zero": false}, "axis": null},
    "y2": {"field": "b"}
   }},
  {"data": {"name": "notes"}, "transform": [{"filter": "datum.p == '5p' && datum.k == 'main'"}],
   "mark": {"type": "text", "font": "Liberation Serif", "fontSize": 25, "align": "left", "baseline": "alphabetic", "color": "black"},
   "encoding": {
    "x": {"field": "x", "type": "quantitative", "scale": {"domain": [4, 30], "nice": false, "zero": false}, "axis": null},
    "y": {"field": "y", "type": "quantitative", "scale": {"domain": [-9000, 500], "nice": false, "zero": false}, "axis": null},
    "text": {"field": "t"}
   }},
  {"data": {"name": "notes"}, "transform": [{"filter": "datum.p == '5p' && datum.k == 'sup'"}],
   "mark": {"type": "text", "font": "Liberation Serif", "fontSize": 15, "align": "left", "baseline": "alphabetic", "color": "black"},
   "encoding": {
    "x": {"field": "x", "type": "quantitative", "scale": {"domain": [4, 30], "nice": false, "zero": false}, "axis": null},
    "y": {"field": "y", "type": "quantitative", "scale": {"domain": [-9000, 500], "nice": false, "zero": false}, "axis": null},
    "text": {"field": "t"}
   }},
  {"data": {"name": "notes"}, "transform": [{"filter": "datum.p == '5p' && datum.k == 'head'"}],
   "mark": {"type": "text", "font": "Liberation Serif", "fontSize": 22, "fontStyle": "italic", "align": "right", "baseline": "alphabetic", "color": "black"},
   "encoding": {
    "x": {"field": "x", "type": "quantitative", "scale": {"domain": [4, 30], "nice": false, "zero": false}, "axis": null},
    "y": {"field": "y", "type": "quantitative", "scale": {"domain": [-9000, 500], "nice": false, "zero": false}, "axis": null},
    "text": {"field": "t"}
   }}
 ],
 "resolve": {"axis": {"x": "independent", "y": "independent"}}
}
]
}
